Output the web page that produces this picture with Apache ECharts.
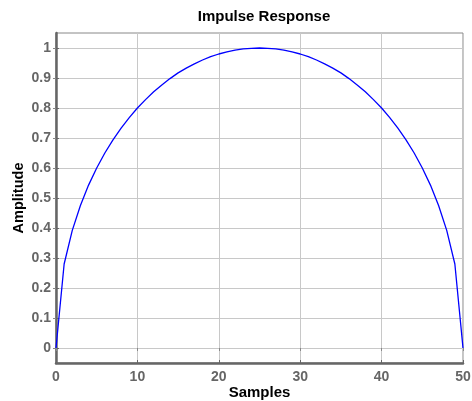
<!DOCTYPE html>
<html><head><meta charset="utf-8">
<script src="https://cdn.jsdelivr.net/npm/echarts@6/dist/echarts.min.js"></script>
<style>html,body{margin:0;padding:0;background:#fff}#c{width:472px;height:401px}</style>
</head><body><div id="c"></div>
<script>
var samples = [0,1,2,3,4,5,6,7,8,9,10,11,12,13,14,15,16,17,18,19,20,21,22,23,24,25,26,27,28,29,30,31,32,33,34,35,36,37,38,39,40,41,42,43,44,45,46,47,48,49,50];
var amplitude = [0,0.28,0.392,0.475,0.543,0.6,0.65,0.694,0.733,0.768,0.8,0.828,0.854,0.877,0.898,0.917,0.933,0.947,0.96,0.971,0.98,0.987,0.993,0.997,0.999,1,
0.999,0.997,0.993,0.987,0.98,0.971,0.96,0.947,0.933,0.917,0.898,0.877,0.854,0.828,0.8,0.768,0.733,0.694,0.65,0.6,0.543,0.475,0.392,0.28,0];
var yTicks = [0,0.1,0.2,0.3,0.4,0.5,0.6,0.7,0.8,0.9,1];
var xTicks = [0,10,20,30,40,50];
var titleText = 'Impulse Response';
var xName = 'Samples';
var yName = 'Amplitude';

var data = samples.map(function(s,i){return [s, amplitude[i]];});
var font = 'Liberation Sans, Arial, sans-serif';
var chart = echarts.init(document.getElementById('c'));
chart.setOption({
  animation: false,
  title: {text: titleText, left: 259, top: 4, textAlign: 'center',
    textStyle: {fontFamily: font, fontSize: 15, fontWeight: 'bold', color: '#000'}},
  grid: {left: 56, right: 9, top: 33, bottom: 38, show: true, borderColor: '#888', borderWidth: 1,
    outerBoundsMode: 'none', containLabel: false},
  xAxis: [{
    type: 'value', min: 0, max: 50, interval: 10, position: 'bottom',
    name: xName, nameLocation: 'middle', nameGap: 22, nameMoveOverlap: false,
    nameTextStyle: {fontFamily: font, fontSize: 15, fontWeight: 'bold', color: '#000'},
    axisLine: {onZero: false, lineStyle: {color: '#666', width: 2.5}},
    axisTick: {inside: true, length: 3, lineStyle: {color: '#666', width: 1}},
    axisLabel: {fontFamily: font, fontSize: 14, fontWeight: 'bold', color: '#666', margin: 7,
      customValues: xTicks},
    splitLine: {show: true, lineStyle: {color: '#c8c8c8', width: 1}}
  },{
    type: 'value', min: 0, max: 50, interval: 10, position: 'top',
    axisLine: {show: false}, axisLabel: {show: false},
    axisTick: {inside: true, length: 3, lineStyle: {color: '#888'}},
    splitLine: {show: false}
  }],
  yAxis: [{
    type: 'value', min: -0.05, max: 1.05, position: 'left',
    name: yName, nameLocation: 'middle', nameGap: 30, nameRotate: 90, nameMoveOverlap: false,
    nameTextStyle: {fontFamily: font, fontSize: 14.5, fontWeight: 'bold', color: '#000'},
    axisLine: {onZero: false, lineStyle: {color: '#666', width: 2.5}},
    axisTick: {inside: true, length: 3, lineStyle: {color: '#666'}, customValues: yTicks},
    axisLabel: {fontFamily: font, fontSize: 14, fontWeight: 'bold', color: '#666', margin: 5,
      customValues: yTicks},
    splitLine: {show: true, lineStyle: {color: '#c8c8c8', width: 1}}
  },{
    type: 'value', min: -0.05, max: 1.05, position: 'right',
    axisLine: {show: false}, axisLabel: {show: false},
    axisTick: {inside: true, length: 3, lineStyle: {color: '#888'}, customValues: yTicks},
    splitLine: {show: false}
  }],
  series: [{
    type: 'line', data: data, showSymbol: false, symbol: 'none',
    lineStyle: {color: '#0000ff', width: 1.3}, z: 5
  }]
});
</script></body></html>
